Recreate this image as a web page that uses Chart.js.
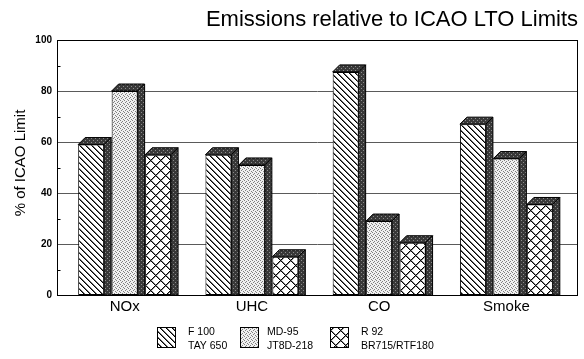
<!DOCTYPE html>
<html>
<head>
<meta charset="utf-8">
<script src="https://cdn.jsdelivr.net/npm/chart.js@4"></script>
<style>
  html, body { margin: 0; padding: 0; background: #fff; }
  #wrap { width: 584px; height: 359px; }
</style>
</head>
<body>
<div id="wrap"><canvas id="c" width="584" height="359"></canvas></div>
<script>
// Emission levels as a share of the ICAO landing/take-off limits
const categories = ['NOx', 'UHC', 'CO', 'Smoke'];
const seriesNames = [['F 100', 'TAY 650'], ['MD-95', 'JT8D-218'], ['R 92', 'BR715/RTF180']];
const f100Values = [59, 55, 87.5, 67];
const md95Values = [80, 51, 29, 53.5];
const r92Values = [55, 15, 20.5, 35.5];
const yTicks = [0, 20, 40, 60, 80, 100];
const yMinorTicks = [10, 30, 50, 70, 90];
const chartTitle = 'Emissions relative to ICAO LTO Limits';
const yTitle = '% of ICAO Limit';

const FONT = '"Liberation Sans", Arial, Helvetica, sans-serif';
const depthX = 7, depthY = 7;

const canvas = document.getElementById('c');
const ctx0 = canvas.getContext('2d');

// small pixel tiles used as fill patterns
function pixelTile(w, h, fn) {
  const c = document.createElement('canvas');
  c.width = w; c.height = h;
  const g = c.getContext('2d');
  for (let y = 0; y < h; y++) {
    for (let x = 0; x < w; x++) {
      g.fillStyle = fn(x, y);
      g.fillRect(x, y, 1, 1);
    }
  }
  return ctx0.createPattern(c, 'repeat');
}
const mod = (a, n) => ((a % n) + n) % n;

const hatchFill = pixelTile(6, 6, (x, y) => {
  const d = mod(x - y, 6);
  return d === 0 ? '#000' : d === 1 ? '#6a6a6a' : '#fff';
});
const stippleFill = pixelTile(4, 4, (x, y) =>
  ((x === 0 && y === 0) || (x === 2 && y === 1) || (x === 1 && y === 2) || (x === 3 && y === 3)) ? '#808080' : '#f0f0f0');
const crossFill = pixelTile(10, 10, (x, y) => {
  const a = mod(x - y, 10), b = mod(x + y, 10);
  if (a === 0 || b === 0) return '#000';
  if (a === 1 || b === 1) return '#8a8a8a';
  return '#fff';
});
const shadeFill = pixelTile(4, 4, (x, y) =>
  ((x === 1 && y === 0) || (x === 3 && y === 2)) ? '#8c8c8c' : '#383838');

const seriesFills = [hatchFill, stippleFill, crossFill];

// plot frame, grid lines and minor ticks, extended by the bar depth on the right
const framePlugin = {
  id: 'frame',
  beforeDatasetsDraw(chart) {
    const { ctx, chartArea: a, scales: { y } } = chart;
    const left = Math.round(a.left) - 3.5;
    const right = Math.round(a.right) + depthX + 0.5;
    const top = Math.round(y.getPixelForValue(100)) + 0.5;
    const bottom = Math.round(y.getPixelForValue(0)) + 0.5;
    ctx.save();
    ctx.lineWidth = 1;
    ctx.strokeStyle = '#5a5a5a';
    yTicks.forEach(v => {
      if (v === 0 || v === 100) return;
      const py = Math.round(y.getPixelForValue(v)) + 0.5;
      ctx.beginPath(); ctx.moveTo(left, py); ctx.lineTo(right, py); ctx.stroke();
    });
    ctx.strokeStyle = '#000';
    yMinorTicks.forEach(v => {
      const py = Math.round(y.getPixelForValue(v)) + 0.5;
      ctx.beginPath(); ctx.moveTo(left, py); ctx.lineTo(left + 3, py); ctx.stroke();
    });
    ctx.strokeRect(left, top, right - left, bottom - top);
    ctx.restore();
  }
};

// top and side faces that give each bar its depth
const bar3dPlugin = {
  id: 'bar3d',
  afterDatasetsDraw(chart) {
    const ctx = chart.ctx;
    chart.data.datasets.forEach((ds, i) => {
      chart.getDatasetMeta(i).data.forEach(el => {
        const { x, y, base, width } = el.getProps(['x', 'y', 'base', 'width'], true);
        const l = x - width / 2, r = x + width / 2;
        ctx.save();
        ctx.fillStyle = shadeFill;
        ctx.strokeStyle = '#000';
        ctx.lineWidth = 1;
        ctx.lineJoin = 'miter';
        ctx.beginPath();
        ctx.moveTo(l, y); ctx.lineTo(l + depthX, y - depthY);
        ctx.lineTo(r + depthX, y - depthY); ctx.lineTo(r, y);
        ctx.closePath(); ctx.fill(); ctx.stroke();
        ctx.beginPath();
        ctx.moveTo(r, y); ctx.lineTo(r + depthX, y - depthY);
        ctx.lineTo(r + depthX, base); ctx.lineTo(r, base);
        ctx.closePath(); ctx.fill(); ctx.stroke();
        ctx.restore();
      });
    });
  }
};

// title, rotated axis title and the two-line legend
const textPlugin = {
  id: 'texts',
  afterDraw(chart) {
    const ctx = chart.ctx;
    ctx.save();
    ctx.fillStyle = '#000';
    ctx.font = '22px ' + FONT;
    ctx.textAlign = 'right';
    ctx.textBaseline = 'alphabetic';
    ctx.fillText(chartTitle, 578, 26);

    ctx.save();
    ctx.translate(25, 163);
    ctx.rotate(-Math.PI / 2);
    ctx.font = '15px ' + FONT;
    ctx.textAlign = 'center';
    ctx.textBaseline = 'alphabetic';
    ctx.fillText(yTitle, 0, 0);
    ctx.restore();

    const boxX = [157, 240, 330];
    const textX = [188, 267, 361];
    ctx.font = '10.5px ' + FONT;
    ctx.textAlign = 'left';
    seriesNames.forEach((lines, i) => {
      ctx.fillStyle = seriesFills[i];
      ctx.fillRect(boxX[i], 327, 18, 20);
      ctx.strokeStyle = '#000';
      ctx.lineWidth = 1;
      ctx.strokeRect(boxX[i] + 0.5, 327.5, 18, 20);
      ctx.fillStyle = '#000';
      lines.forEach((t, k) => ctx.fillText(t, textX[i], 335 + k * 14));
    });
    ctx.restore();
  }
};

const datasets = [f100Values, md95Values, r92Values].map((vals, i) => ({
  label: seriesNames[i].join(' / '),
  data: vals,
  backgroundColor: seriesFills[i],
  borderColor: '#000',
  borderWidth: 1,
  borderSkipped: false,
  categoryPercentage: 0.789,
  barPercentage: 0.776
}));

new Chart(canvas, {
  type: 'bar',
  data: { labels: categories, datasets },
  options: {
    responsive: false,
    animation: false,
    devicePixelRatio: 1,
    layout: { padding: { top: 40, right: 14, bottom: 0, left: 0 } },
    plugins: {
      legend: { display: false },
      tooltip: { enabled: false },
      title: { display: false }
    },
    scales: {
      x: {
        grid: { display: false, drawTicks: false },
        border: { display: false },
        ticks: { color: '#000', font: { family: FONT, size: 15 }, padding: 3 },
        afterFit(s) { s.height = 64; }
      },
      y: {
        min: 0,
        max: 100,
        afterBuildTicks(s) { s.ticks = yTicks.map(v => ({ value: v })); },
        grid: { display: false, drawTicks: false },
        border: { display: false },
        ticks: { color: '#000', font: { family: FONT, size: 10, weight: 'bold' }, padding: 9 },
        afterFit(s) { s.width = 61; }
      }
    }
  },
  plugins: [framePlugin, bar3dPlugin, textPlugin]
});
</script>
</body>
</html>
